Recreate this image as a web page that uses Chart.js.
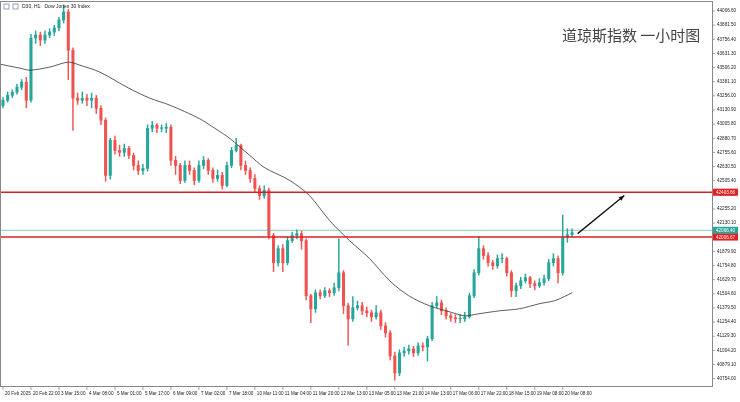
<!DOCTYPE html>
<html>
<head>
<meta charset="utf-8">
<script src="https://cdn.jsdelivr.net/npm/chart.js@4.4.1/dist/chart.umd.min.js"></script>
<style>
  html, body { margin: 0; padding: 0; background: #fff; }
  #wrap { width: 740px; height: 402px; }
</style>
</head>
<body>
<div id="wrap"><canvas id="dowChart"></canvas></div>
<script>
// DJ30 H1 candles, open = previous close
const opens0 = 43170;
const closes = [43217,43261,43288,43332,43377,43217,43767,43794,43749,43794,43820,43856,43927,43998,43660,43235,43217,43235,43217,43235,
  43146,43040,42552,42862,42773,42756,42791,42729,42640,42596,42614,42969,42995,42969,42969,42978,42685,42640,42507,42640,
  42596,42507,42640,42685,42596,42525,42552,42463,42640,42773,42818,42640,42596,42525,42436,42374,42419,42020,41780,41904,
  41780,41975,42020,42037,41975,41487,41372,41514,41487,41532,41514,41558,41691,41399,41283,41381,41399,41354,41337,41301,
  41337,41221,41159,40955,40804,40982,40999,41017,40982,41044,41035,41106,41399,41425,41354,41310,41292,41283,41283,41301,
  41487,41691,41904,41842,41780,41753,41816,41816,41691,41532,41576,41620,41647,41594,41576,41603,41638,41780,41816,41691,
  42002,42028,42046];
const highs = [43240,43290,43310,43360,43400,43420,43800,43830,43820,43830,43850,43880,43950,44060,44020,43680,43280,43290,43270,43280,
  43260,43170,43060,42880,42900,42820,42830,42810,42750,42680,42650,43000,43030,43010,43000,43010,43000,42720,42660,42680,
  42680,42620,42680,42720,42700,42620,42600,42580,42670,42800,42880,42830,42680,42620,42560,42460,42460,42440,42040,41930,
  41940,42010,42050,42070,42060,41990,41500,41540,41540,41560,41550,41600,41990,41710,41420,41480,41440,41430,41390,41360,
  41400,41360,41250,41180,40990,41010,41030,41050,41040,41070,41070,41130,41430,41480,41450,41380,41330,41320,41320,41340,
  41510,41720,42010,41930,41870,41800,41850,41860,41830,41710,41600,41650,41680,41660,41620,41640,41670,41810,41860,41840,
  42200,42080,42080];
const lows = [43150,43200,43240,43270,43310,43150,43200,43720,43700,43720,43770,43790,43830,43900,43400,42950,43180,43190,43170,43150,
  43100,43000,42500,42520,42740,42720,42720,42700,42600,42560,42560,42590,42940,42930,42940,42930,42640,42560,42480,42490,
  42560,42470,42490,42610,42560,42490,42500,42430,42450,42620,42760,42600,42560,42490,42400,42340,42350,41990,41700,41750,
  41700,41760,41960,41990,41900,41450,41250,41340,41460,41470,41480,41490,41530,41330,41050,41260,41360,41320,41300,41260,
  41280,41190,41120,40920,40740,40780,40950,40970,40950,40960,41000,40910,41090,41380,41320,41280,41260,41250,41250,41260,
  41290,41470,41670,41810,41750,41720,41730,41780,41660,41480,41480,41550,41600,41560,41540,41560,41580,41620,41750,41600,
  41670,41960,42010];

// moving average line: [bar index, value]
const maIdx = [-0.6,3.6,5.8,10,14,16.5,20.8,27,31.5,35.8,42,45.4,48.6,52.9,56,61.5,65.7,70,74.3,78.6,82.9,87,91.4,95.7,99,102,106.4,110.7,115,118.2,120.3,122];
const maVal = [43536,43501,43483,43510,43554,43527,43465,43323,43235,43173,43057,42969,42880,42729,42623,42507,42374,42153,41975,41816,41620,41487,41399,41346,41310,41328,41354,41372,41417,41443,41479,41514];

const priceTicks = [44006.60,43881.50,43756.40,43631.30,43506.20,43381.10,43256.00,43130.90,43005.80,42880.70,42755.60,42630.50,42505.40,42380.30,
  42255.20,42130.10,42005.00,41879.90,41754.80,41629.70,41504.60,41379.50,41254.40,41129.30,41004.20,40879.10,40754.00];
const dateLabels = ['20 Feb 2025','20 Feb 22:00','3 Mar 15:00','4 Mar 08:00','5 Mar 01:00','5 Mar 17:00','6 Mar 09:00','7 Mar 02:00',
  '7 Mar 18:00','10 Mar 11:00','11 Mar 04:00','11 Mar 20:00','12 Mar 13:00','13 Mar 05:00','13 Mar 21:00','14 Mar 13:00',
  '17 Mar 06:00','17 Mar 22:00','18 Mar 15:00','19 Mar 08:00','20 Mar 08:00'];
const dateIdx = dateLabels.map((_, i) => i * 6);

const levelTop = 42403.66, levelBottom = 42006.67, lastPrice = 42066.40;
const arrowFrom = [123.2, 42037], arrowTo = [133.2, 42374];

const UP = 'rgb(38,166,154)', DOWN = 'rgb(239,83,80)';
const opens = closes.map((c, i) => i === 0 ? opens0 : closes[i - 1]);
const cols = closes.map((c, i) => c >= opens[i] ? UP : DOWN);
const FONT = '"Liberation Sans"';

const overlay = {
  id: 'overlay',
  afterDatasetsDraw(chart) {
    const { ctx, chartArea: a, scales: { x, y } } = chart;
    ctx.save();
    // level lines
    const hline = (v, color, w) => {
      ctx.strokeStyle = color; ctx.lineWidth = w;
      ctx.beginPath(); ctx.moveTo(a.left, y.getPixelForValue(v)); ctx.lineTo(a.right, y.getPixelForValue(v)); ctx.stroke();
    };
    hline(lastPrice, 'rgba(38,166,154,0.7)', 0.8);
    hline(levelTop, 'rgb(220,30,30)', 1.4);
    hline(levelBottom, 'rgb(220,30,30)', 1.4);
    // arrow
    const x1 = x.getPixelForValue(arrowFrom[0]), y1 = y.getPixelForValue(arrowFrom[1]);
    const x2 = x.getPixelForValue(arrowTo[0]), y2 = y.getPixelForValue(arrowTo[1]);
    ctx.strokeStyle = '#111'; ctx.fillStyle = '#111'; ctx.lineWidth = 1.3;
    ctx.beginPath(); ctx.moveTo(x1, y1); ctx.lineTo(x2, y2); ctx.stroke();
    const ang = Math.atan2(y2 - y1, x2 - x1);
    ctx.beginPath(); ctx.moveTo(x2, y2);
    ctx.lineTo(x2 - 6 * Math.cos(ang - 0.4), y2 - 6 * Math.sin(ang - 0.4));
    ctx.lineTo(x2 - 6 * Math.cos(ang + 0.4), y2 - 6 * Math.sin(ang + 0.4));
    ctx.closePath(); ctx.fill();
    // y tick marks and labels
    ctx.fillStyle = '#222'; ctx.strokeStyle = '#666'; ctx.lineWidth = 0.6;
    ctx.font = '4.6px ' + FONT; ctx.textBaseline = 'middle'; ctx.textAlign = 'left';
    priceTicks.forEach(v => {
      const py = y.getPixelForValue(v);
      ctx.beginPath(); ctx.moveTo(a.right, py); ctx.lineTo(a.right + 3, py); ctx.stroke();
      ctx.fillText(v.toFixed(2), a.right + 5, py);
    });
    // x tick marks and labels
    ctx.textBaseline = 'top';
    dateIdx.forEach((v, i) => {
      const px = x.getPixelForValue(v);
      ctx.beginPath(); ctx.moveTo(px, a.bottom); ctx.lineTo(px, a.bottom + 4); ctx.stroke();
      ctx.fillText(dateLabels[i], px + 2, a.bottom + 5);
    });
    // price boxes on the axis
    const box = (v, bg) => {
      const py = y.getPixelForValue(v);
      ctx.fillStyle = bg; ctx.fillRect(a.right + 1, py - 3.5, 25, 7);
      ctx.fillStyle = '#fff'; ctx.font = '4.6px ' + FONT; ctx.textBaseline = 'middle'; ctx.textAlign = 'left';
      ctx.fillText(v.toFixed(2), a.right + 4, py + 0.3);
    };
    box(levelTop, 'rgb(230,30,30)');
    box(lastPrice, 'rgb(38,166,154)');
    box(levelBottom, 'rgb(230,30,30)');
    // titles
    ctx.fillStyle = '#444'; ctx.textAlign = 'left'; ctx.textBaseline = 'middle';
    ctx.font = '15px "Noto Sans CJK SC"';
    ctx.fillText('道琼斯指数 一小时图', 562, 35);
    ctx.fillStyle = '#222'; ctx.font = '5px ' + FONT;
    ctx.fillText('D30, H1:  Dow Jones 30 Index', 22, 7);
    ctx.strokeStyle = '#7a8aa8'; ctx.lineWidth = 0.8;
    ctx.strokeRect(4, 4, 5, 5); ctx.strokeRect(13, 4, 5, 5);
    // frame
    ctx.strokeStyle = '#888'; ctx.lineWidth = 1;
    ctx.strokeRect(a.left + 0.5, a.top + 0.5, a.right - a.left, a.bottom - a.top);
    ctx.restore();
  }
};

new Chart(document.getElementById('dowChart'), {
  type: 'bar',
  data: {
    datasets: [
      {
        label: 'wick',
        data: closes.map((c, i) => ({ x: i, y: [lows[i], highs[i]] })),
        backgroundColor: cols,
        barThickness: 0.8,
        grouped: false,
        order: 3
      },
      {
        label: 'body',
        data: closes.map((c, i) => ({ x: i, y: [opens[i], c === opens[i] ? c + 4 : c] })),
        backgroundColor: cols,
        barThickness: 2.4,
        grouped: false,
        order: 2
      },
      {
        type: 'line',
        label: 'MA',
        data: maIdx.map((v, i) => ({ x: v, y: maVal[i] })),
        borderColor: '#333',
        borderWidth: 0.8,
        pointRadius: 0,
        tension: 0.3,
        order: 1
      }
    ]
  },
  plugins: [overlay],
  options: {
    responsive: true,
    maintainAspectRatio: false,
    animation: false,
    layout: { padding: { left: 0, top: 1, right: 0, bottom: 0 } },
    plugins: { legend: { display: false }, tooltip: { enabled: false } },
    scales: {
      x: {
        type: 'linear',
        offset: false,
        min: -0.64,
        max: 152,
        grid: { display: false, offset: false },
        border: { display: false },
        afterFit: s => { s.height = 16; },
        ticks: { display: false }
      },
      y: {
        position: 'right',
        min: 40689,
        max: 44095,
        grid: { display: false },
        border: { display: false },
        afterFit: s => { s.width = 28; },
        ticks: { display: false }
      }
    }
  }
});
</script>
</body>
</html>
